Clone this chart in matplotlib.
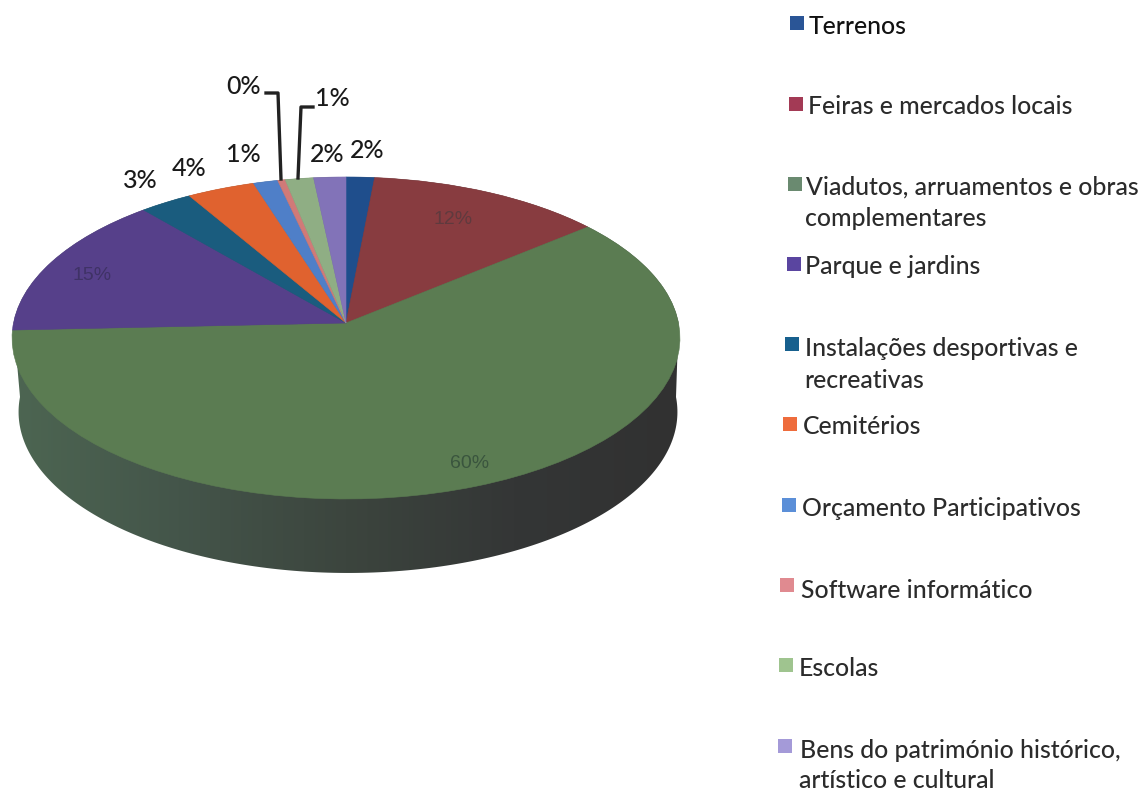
import numpy as np
import matplotlib
matplotlib.use("Agg")
from matplotlib import pyplot as plt
from matplotlib.patches import Polygon, Rectangle
from matplotlib.transforms import Transform
from matplotlib.colors import LinearSegmentedColormap

# chart values
categories = ["Terrenos", "Feiras e mercados locais",
              "Viadutos, arruamentos e obras\ncomplementares", "Parque e jardins",
              "Instalações desportivas e\nrecreativas", "Cemitérios",
              "Orçamento Participativos", "Software informático", "Escolas",
              "Bens do património histórico,\nartístico e cultural"]
shares = [1.5, 12.5, 60.3, 14.4, 2.8, 3.6, 1.3, 0.4, 1.5, 1.7]
value_labels = ["2%", "12%", "60%", "15%", "3%", "4%", "1%", "0%", "1%", "2%"]
top_colors = ["#1f4e8c", "#883c40", "#5b7c52", "#56408a", "#1a5c7e",
              "#e0622f", "#4f7fc8", "#d07a78", "#8fae84", "#8273b8"]
key_colors = ["#2a5596", "#a33a55", "#6a8a70", "#5a45a0", "#17608e",
              "#ee6c3c", "#5b8fd8", "#e08a90", "#9fc48f", "#a49ad8"]

# layout in pixels of the reference
label_xy = [(367, 150), (453, 220), (470, 463), (92, 275), (140, 181),
            (189, 168), (243, 155), (244, 87), (332, 99), (327, 155)]
key_xy = [(797, 23), (796, 104), (795, 184), (794, 264), (792, 344),
          (790, 424), (789, 505), (787, 585), (786, 665), (785, 746)]
key_text_xy = [(809, 26), (808, 107), (806, 187), (805, 267), (805, 348),
               (803, 427), (802, 509), (801, 590), (799, 669), (800, 750)]
inside = {1: "#5f3a3e", 2: "#3a553e", 3: "#3f3266"}


class Tilted(Transform):
    # unit circle seen in perspective, centre of the pie stays at (cx, cy)
    input_dims = 2
    output_dims = 2
    is_separable = False

    def __init__(self, cx, cy, a, b, k):
        super().__init__()
        self.cx, self.cy, self.a, self.b, self.k = cx, cy, a, b, k

    def transform_non_affine(self, xy):
        xy = np.asarray(xy, dtype=float)
        w = 1 + self.k * xy[:, 1]
        return np.column_stack([self.cx + self.a * xy[:, 0] / w,
                                self.cy - self.b * xy[:, 1] / w])


fig = plt.figure(figsize=(11.47, 7.93), dpi=100)
ax = fig.add_axes([0, 0, 1, 1])

top = Tilted(346, 323, 332.5, 159.6, 0.093)
bottom = Tilted(348, 397, 328, 159.6, 0.093)

wedges, _ = ax.pie(shares, colors=top_colors, startangle=90, counterclock=False,
                   wedgeprops={"zorder": 3})
for w, c in zip(wedges, top_colors):
    w.set_transform(top + ax.transData)
    w.set_edgecolor(c)
    w.set_linewidth(0.4)

# side wall of the pie, shaded from left to right
t = np.radians(np.linspace(180, 360, 200))
circle = np.column_stack([np.cos(t), np.sin(t)])
t2 = np.radians(np.linspace(0, 180, 200))
circle2 = np.column_stack([np.cos(t2), np.sin(t2)])
wall_xy = np.vstack([bottom.transform_non_affine(circle), top.transform_non_affine(circle2)])
wall = Polygon(wall_xy, closed=True, transform=ax.transData, fc="none", ec="none")
ax.add_patch(wall)
shade = LinearSegmentedColormap.from_list("wall", ["#4d6652", "#44554a", "#3c453e", "#343636", "#313131"])
img = ax.imshow(np.linspace(0, 1, 256).reshape(1, -1), cmap=shade, aspect="auto",
                extent=(10, 682, 600, 150), zorder=2, interpolation="bilinear")
img.set_clip_path(wall)

ax.set_aspect("auto")
ax.set_xlim(0, 1147)
ax.set_ylim(793, 0)
ax.axis("off")

# value labels
for i, lab in enumerate(value_labels):
    x, y = label_xy[i]
    if i in inside:
        ax.text(x, y, lab, ha="center", va="center", fontsize=14,
                family="Liberation Sans", color=inside[i], zorder=5)
    else:
        ax.text(x, y, lab, ha="center", va="center", fontsize=18,
                family="Lato", weight="medium", color="#1a1a1a", zorder=5)

# leader lines of the two thinnest labels
ax.plot([266, 278, 281], [93, 93, 179], color="#222222", lw=2.4, zorder=4)
ax.plot([313, 301, 298], [107, 107, 178], color="#222222", lw=2.4, zorder=4)

# legend, each row sits a little further left like on the scan
for i, name in enumerate(categories):
    kx, ky = key_xy[i]
    ax.add_patch(Rectangle((kx - 7, ky - 7), 14, 14, fc=key_colors[i], ec="none", zorder=4))
    tx, ty = key_text_xy[i]
    for j, line in enumerate(name.split("\n")):
        ax.text(tx - j, ty + 30 * j if i == 9 else ty + 32 * j, line, ha="left", va="center", fontsize=17.8,
                family="Lato", weight="medium", color="#2b2b2b" if i else "#111111")

fig.savefig("out.png", dpi=100)
